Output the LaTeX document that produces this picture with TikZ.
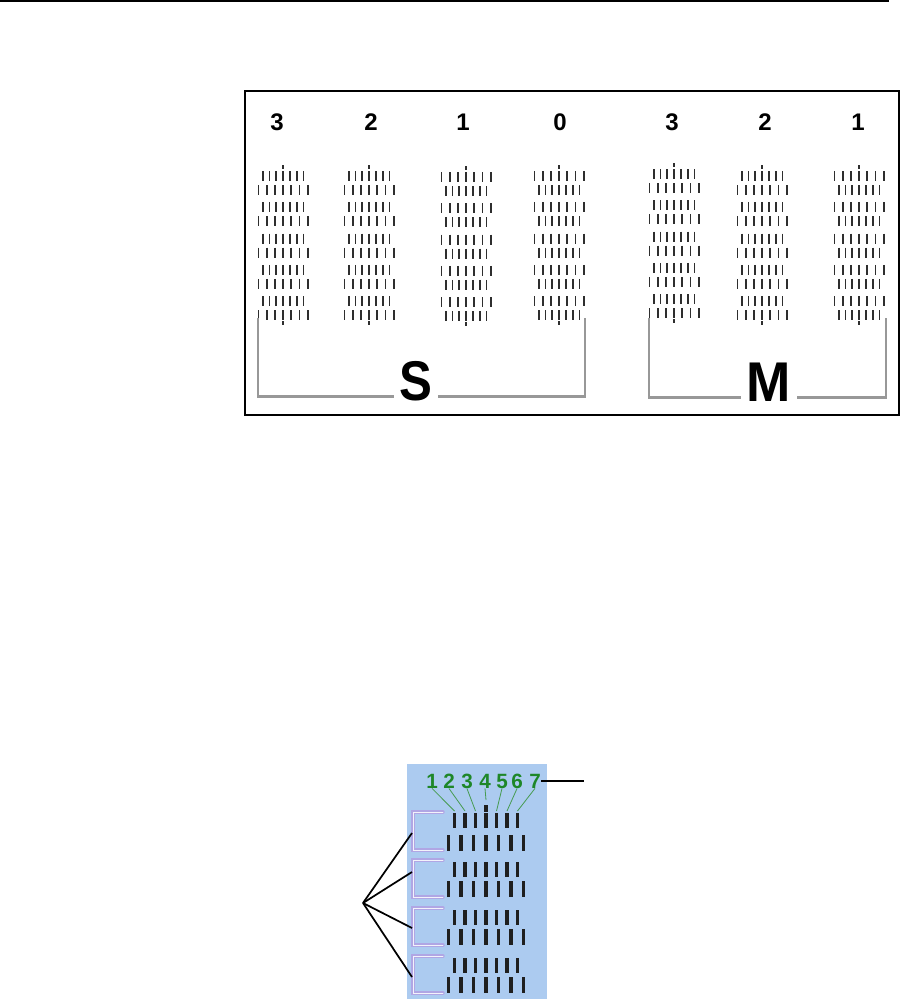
\documentclass[tikz,border=0pt]{standalone}
\usepackage{fontspec}
\setmainfont{Liberation Sans}
\usetikzlibrary{positioning, calc}
\definecolor{panelblue}{RGB}{172,203,240}
\definecolor{numgreen}{RGB}{30,135,40}
\definecolor{leadgreen}{RGB}{70,155,80}
\definecolor{brackgray}{RGB}{152,152,152}
\definecolor{brackviolet}{RGB}{176,166,228}
\tikzset{
	line cap=butt,
	inner sep=0pt,
}

\begin{document}
\begin{tikzpicture}[
    x=0.75pt,
    y=-0.75pt,
    tick/.style={draw=black!82, line width=1.35pt},
    nozzle/.style={draw=black!88, line width=2.3pt},
    frame/.style={draw, line width=1.2pt},
    brk/.style={draw=brackgray, line width=1.9pt},
    brv/.style={draw=brackviolet, double=white!85!brackviolet, double distance=0.6pt, line width=1pt, line cap=round},
    col/.style={font=\fontsize{18}{20}\selectfont\bfseries},
    big/.style={font=\fontsize{42}{44}\selectfont\bfseries, anchor=base, inner xsep=4pt},
    num/.style={font=\fontsize{15.5}{17}\selectfont\bfseries, text=numgreen},
    lead/.style={draw=leadgreen, line width=0.6pt},
    call/.style={draw, line width=1.3pt}
]
\useasboundingbox (0,0) rectangle (901,999);

% --- Rule and frame ---
\draw[line width=1.1pt] (0,1.2) -- (889,1.2);
\draw[frame] (245,91) rectangle (899,415);

% --- Column labels ---
\node[col] (cS3) at (277,122) {3};
\node[col] (cS2) at (371,122) {2};
\node[col] (cS1) at (463,122) {1};
\node[col] (cS0) at (560,122) {0};
\node[col] (cM3) at (672,122) {3};
\node[col] (cM2) at (765,122) {2};
\node[col] (cM1) at (858,122) {1};

% --- Tick columns ---
\foreach \cx/\ta/\tb/\dy in {283/6.8/8.2/0, 369/6.8/8.2/0, 466/8.2/6.8/1, 559/8.2/6.8/0,
                             674/6.8/8.2/-2, 762/6.8/8.2/0, 859/8.2/6.8/0}{
  \draw[tick] (\cx,165+\dy) -- ++(0,4);
  \draw[tick] (\cx,321+\dy) -- ++(0,4);
  \foreach \k in {0,...,4}
    \foreach \i in {-3,...,3}{
      \draw[tick] (\cx+\i*\ta,171+31.3*\k+\dy) -- ++(0,10);
      \draw[tick] (\cx+\i*\tb,185+31.3*\k+\dy) -- ++(0,10);
    }
}

% --- S and M brackets ---
\node[big] (lblS) at (416,400) {\scalebox{0.88}[1]{S}};
\node[big] (lblM) at (769,401) {\scalebox{0.95}[1]{M}};

\draw[brk] (258,318) |- (lblS.mid west);
\draw[brk] (585,318) |- (lblS.mid east);
\draw[brk] (649,318) |- (lblM.mid west);
\draw[brk] (886,318) |- (lblM.mid east);

% --- Detail panel ---
\fill[panelblue] (407,764) rectangle (547,999);

\foreach \ya/\yb in {812/850, 860/897, 908/945, 956/993}
  \draw[brv] (443,\ya) -- (413,\ya) -- (413,\yb) -- (443,\yb);

\foreach \ya/\yb in {813/835, 862/881, 910/929, 958/977}
  \foreach \i in {-3,...,3}{
    \draw[nozzle] (486+\i*10.5,\ya) -- ++(0,15);
    \draw[nozzle] (486+\i*12.5,\yb) -- ++(0,16);
  }
\draw[nozzle] (486,805) -- (486,812);

% --- Nozzle numbers ---
\foreach \i/\x in {1/432, 2/449, 3/467, 4/485, 5/502, 6/517, 7/535}
  \node[num] (n\i) at (\x,781) {\i};

\foreach \i in {1,2,3,5,6,7}
  \coordinate (t\i) at (486+\i*10.5-42,811);
\coordinate (t4) at (486,800);

\foreach \i in {1,...,7}
  \draw[lead] (n\i.south) -- (t\i);

% --- Callouts ---
\coordinate (callR) at (584,781);
\draw[call] (n7.east) -- (callR);

\coordinate (hub) at (363,903);
\coordinate (b1) at (412,833);
\coordinate (b2) at (412,872);
\coordinate (b3) at (412,928);
\coordinate (b4) at (412,977);

\draw[call] (hub) -- (b1);
\draw[call] (hub) -- (b2);
\draw[call] (hub) -- (b3);
\draw[call] (hub) -- (b4);
\end{tikzpicture}
\end{document}
